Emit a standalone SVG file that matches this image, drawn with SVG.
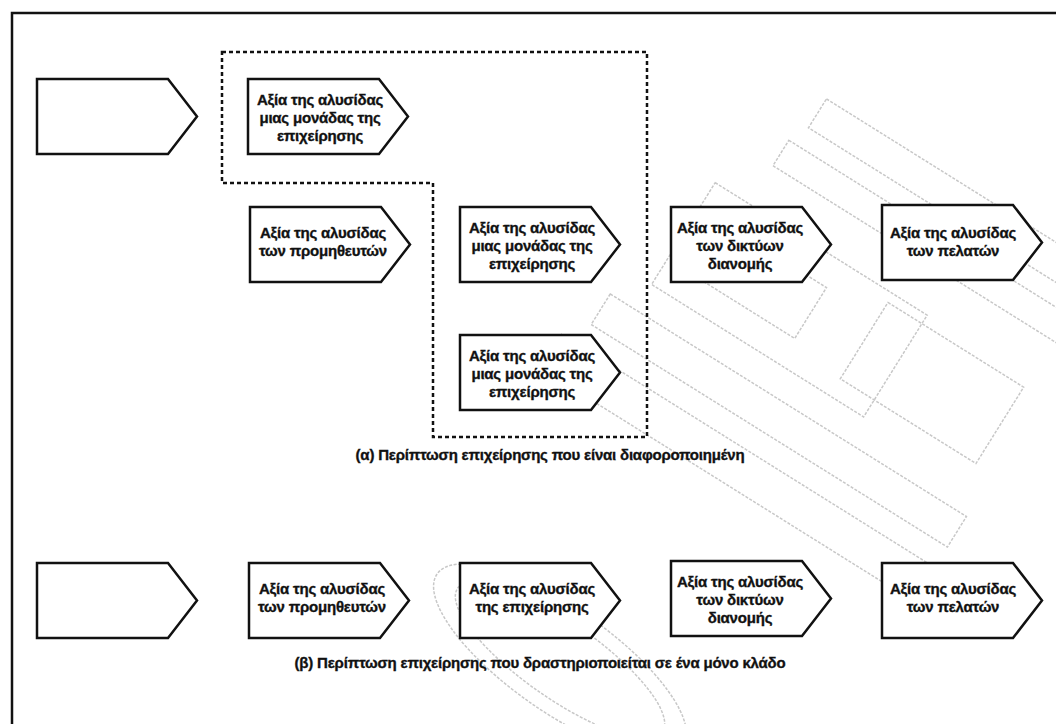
<svg xmlns="http://www.w3.org/2000/svg" width="1056" height="724" viewBox="0 0 1056 724">
  <style>
    .frame { fill: none; stroke: #111; stroke-width: 2.5; }
    .node { fill: #fff; stroke: #111; stroke-width: 2.5; stroke-linejoin: miter; }
    .group { fill: none; stroke: #111; stroke-width: 2.5; stroke-dasharray: 4 3; }
    .label { font-family: "Liberation Sans", Arial, sans-serif; font-weight: bold; font-size: 15px; fill: #111; stroke: #111; stroke-width: 0.35; text-anchor: middle; letter-spacing: -0.2px; }
    .caption { font-family: "Liberation Sans", Arial, sans-serif; font-weight: bold; font-size: 15px; fill: #111; stroke: #111; stroke-width: 0.35; text-anchor: middle; letter-spacing: -0.2px; }
    .wm { fill: none; stroke: #c8c8c8; stroke-width: 1.5; stroke-dasharray: 3 1.5; }
  </style>
  <defs>
    <!-- pentagon arrow shape: 131 wide body, 29 wide point, 75 high -->
    <path id="chev" d="M0 0 H131 L160 37.5 L131 75 H0 Z"/>
  </defs>

  <rect width="1056" height="724" fill="#fff"/>

  <!-- faint background logo -->
  <g id="watermark" class="wm">
    <g transform="rotate(32 800 330)">
      <rect x="700" y="120" width="330" height="34"/>
      <rect x="690" y="175" width="360" height="30"/>
      <rect x="650" y="250" width="250" height="120"/>
      <rect x="690" y="280" width="110" height="60"/>
      <rect x="860" y="260" width="160" height="90"/>
      <rect x="620" y="400" width="420" height="36"/>
      <rect x="600" y="460" width="440" height="40"/>
    </g>
    <ellipse cx="560" cy="660" rx="150" ry="52" transform="rotate(35 560 660)"/>
    <ellipse cx="560" cy="660" rx="125" ry="38" transform="rotate(35 560 660)"/>
  </g>

  <!-- outer frame -->
  <rect class="frame" x="12" y="13" width="1100" height="800"/>

  <!-- dashed grouping outline around the business-unit chains -->
  <path class="group" d="M222 52 H647 V437 H433 V183 H222 Z"/>

  <!-- (α) diversified firm -->
  <g id="a-blank">
    <use href="#chev" class="node" x="37" y="79"/>
  </g>
  <g id="a-unit-top">
    <use href="#chev" class="node" x="248" y="79"/>
    <text class="label" x="320" y="105">Αξία της αλυσίδας</text>
    <text class="label" x="320" y="123">μιας μονάδας της</text>
    <text class="label" x="320" y="141">επιχείρησης</text>
  </g>
  <g id="a-suppliers">
    <use href="#chev" class="node" x="250" y="207"/>
    <text class="label" x="323" y="238">Αξία της αλυσίδας</text>
    <text class="label" x="323" y="256">των προμηθευτών</text>
  </g>
  <g id="a-unit-mid">
    <use href="#chev" class="node" x="460" y="207"/>
    <text class="label" x="532" y="233">Αξία της αλυσίδας</text>
    <text class="label" x="532" y="251">μιας μονάδας της</text>
    <text class="label" x="532" y="269">επιχείρησης</text>
  </g>
  <g id="a-unit-low">
    <use href="#chev" class="node" x="460" y="335"/>
    <text class="label" x="532" y="361">Αξία της αλυσίδας</text>
    <text class="label" x="532" y="379">μιας μονάδας της</text>
    <text class="label" x="532" y="397">επιχείρησης</text>
  </g>
  <g id="a-distribution">
    <use href="#chev" class="node" x="671" y="207"/>
    <text class="label" x="740" y="233">Αξία της αλυσίδας</text>
    <text class="label" x="740" y="251">των δικτύων</text>
    <text class="label" x="740" y="269">διανομής</text>
  </g>
  <g id="a-customers">
    <use href="#chev" class="node" x="882" y="205"/>
    <text class="label" x="953" y="238">Αξία της αλυσίδας</text>
    <text class="label" x="953" y="256">των πελατών</text>
  </g>
  <text id="caption-a" class="caption" x="550" y="460">(α) Περίπτωση επιχείρησης που είναι διαφοροποιημένη</text>

  <!-- (β) single-industry firm -->
  <g id="b-blank">
    <use href="#chev" class="node" x="37" y="563"/>
  </g>
  <g id="b-suppliers">
    <use href="#chev" class="node" x="249" y="563"/>
    <text class="label" x="322" y="594">Αξία της αλυσίδας</text>
    <text class="label" x="322" y="612">των προμηθευτών</text>
  </g>
  <g id="b-firm">
    <use href="#chev" class="node" x="460" y="563"/>
    <text class="label" x="532" y="594">Αξία της αλυσίδας</text>
    <text class="label" x="532" y="612">της επιχείρησης</text>
  </g>
  <g id="b-distribution">
    <use href="#chev" class="node" x="671" y="561"/>
    <text class="label" x="740" y="587">Αξία της αλυσίδας</text>
    <text class="label" x="740" y="605">των δικτύων</text>
    <text class="label" x="740" y="623">διανομής</text>
  </g>
  <g id="b-customers">
    <use href="#chev" class="node" x="882" y="563"/>
    <text class="label" x="953" y="594">Αξία της αλυσίδας</text>
    <text class="label" x="953" y="612">των πελατών</text>
  </g>
  <text id="caption-b" class="caption" x="540" y="668">(β) Περίπτωση επιχείρησης που δραστηριοποιείται σε ένα μόνο κλάδο</text>

  <!-- no connectors: the chains are set side by side -->
  <g id="connectors"/>
</svg>
